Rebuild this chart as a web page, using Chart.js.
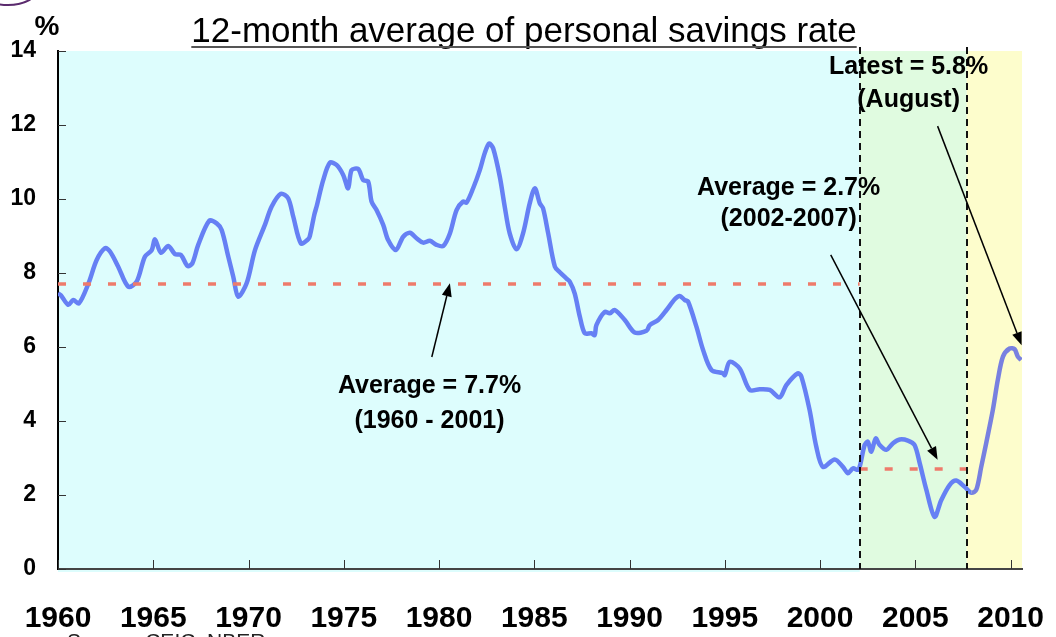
<!DOCTYPE html>
<html>
<head>
<meta charset="utf-8">
<script src="https://cdn.jsdelivr.net/npm/chart.js@4/dist/chart.umd.min.js"></script>
<style>
  html, body { margin: 0; padding: 0; background: #ffffff; }
  #wrap { width: 1056px; height: 637px; position: relative; }
</style>
</head>
<body>
<div id="wrap"><canvas id="c" width="1056" height="637"></canvas></div>
<script>
// ---- Data ----
const years = [
  1960.00, 1960.15, 1960.54, 1960.80, 1961.10, 1961.60, 1962.03, 1962.47, 1962.73, 1963.16,
  1963.69, 1964.13, 1964.56, 1964.92, 1965.09, 1965.40, 1965.79, 1966.14, 1966.45, 1966.80,
  1967.05, 1967.36, 1967.94, 1968.33, 1968.59, 1968.94, 1969.20, 1969.46, 1969.90, 1970.34,
  1970.86, 1971.21, 1971.70, 1972.08, 1972.35, 1972.75, 1973.13, 1973.22, 1973.45, 1973.57,
  1973.92, 1974.27, 1974.62, 1974.97, 1975.23, 1975.41, 1975.76, 1976.02, 1976.28, 1976.46,
  1976.72, 1977.07, 1977.33, 1977.73, 1978.12, 1978.47, 1978.82, 1979.17, 1979.52, 1979.87,
  1980.22, 1980.57, 1980.92, 1981.26, 1981.44, 1981.79, 1982.14, 1982.40, 1982.63, 1982.84,
  1983.19, 1983.45, 1983.71, 1984.07, 1984.41, 1984.76, 1985.03, 1985.29, 1985.46, 1985.73,
  1986.08, 1986.34, 1986.69, 1986.86, 1987.12, 1987.39, 1987.65, 1988.00, 1988.17, 1988.26,
  1988.70, 1988.96, 1989.22, 1989.75, 1990.27, 1990.89, 1991.06, 1991.50, 1991.94, 1992.37,
  1992.63, 1992.90, 1993.07, 1993.51, 1993.86, 1994.30, 1994.90, 1995.00, 1995.26, 1995.78,
  1996.31, 1996.83, 1997.36, 1997.88, 1998.23, 1998.84, 1999.02, 1999.45, 1999.80, 2000.15,
  2000.77, 2001.20, 2001.46, 2001.73, 2001.99, 2002.10, 2002.34, 2002.51, 2002.69, 2002.92,
  2003.13, 2003.48, 2003.83, 2004.18, 2004.61, 2004.96, 2005.23, 2005.58, 2006.01, 2006.36,
  2006.80, 2007.15, 2007.59, 2007.94, 2008.20, 2008.46, 2008.72, 2009.07, 2009.33, 2009.60,
  2009.95, 2010.21, 2010.38, 2010.56
];
const savingsRate = [
  7.45, 7.40, 7.14, 7.27, 7.18, 7.72, 8.35, 8.67, 8.58, 8.17,
  7.63, 7.77, 8.44, 8.62, 8.91, 8.55, 8.73, 8.51, 8.49, 8.19,
  8.26, 8.76, 9.41, 9.34, 9.16, 8.44, 7.90, 7.36, 7.72, 8.62,
  9.30, 9.79, 10.14, 10.02, 9.52, 8.80, 8.91, 9.00, 9.57, 9.79,
  10.51, 10.98, 10.92, 10.65, 10.29, 10.78, 10.81, 10.51, 10.47, 9.93,
  9.70, 9.30, 8.89, 8.62, 8.98, 9.09, 8.94, 8.82, 8.87, 8.76,
  8.73, 9.07, 9.70, 9.93, 9.90, 10.29, 10.78, 11.24, 11.50, 11.37,
  10.60, 9.79, 9.07, 8.64, 9.07, 9.88, 10.29, 9.88, 9.75, 9.07,
  8.17, 8.02, 7.85, 7.77, 7.45, 6.82, 6.37, 6.37, 6.32, 6.59,
  6.95, 6.91, 7.00, 6.73, 6.39, 6.44, 6.59, 6.73, 7.00, 7.29,
  7.38, 7.27, 7.23, 6.55, 5.92, 5.38, 5.29, 5.24, 5.60, 5.42,
  4.84, 4.86, 4.84, 4.64, 4.97, 5.29, 5.20, 4.30, 3.31, 2.76,
  2.96, 2.76, 2.59, 2.72, 2.68, 2.80, 3.35, 3.44, 3.17, 3.53,
  3.35, 3.22, 3.40, 3.50, 3.47, 3.35, 2.86, 2.14, 1.41, 1.86,
  2.27, 2.39, 2.22, 2.06, 2.14, 2.76, 3.40, 4.30, 5.11, 5.74,
  5.96, 5.94, 5.74, 5.65
];
// Period averages
const avgPeriods = [1960, 2002.08, 2007.7];   // boundaries of periods
const avgValues  = [7.7, 2.7];
const xEnd = 2010.6;
// Tick labels
const xTickYears = [1960, 1965, 1970, 1975, 1980, 1985, 1990, 1995, 2000, 2005, 2010];
const yTickValues = [0, 2, 4, 6, 8, 10, 12, 14];
// Texts
const titleText = '12-month average of personal savings rate';
const unitText = '%';
const sourceText = 'Source: CEIC, NBER';
const notes = [
  { lines: ['Average = 7.7%', '(1960 - 2001)'], at: [1979.5, 4.95], gap: 0.95, arrow: [[1979.62, 5.73], [1980.57, 7.72]] },
  { lines: ['Average = 2.7%', '(2002-2007)'], at: [1998.35, 10.3], gap: 0.85, arrow: [[2000.56, 8.49], [2006.17, 2.95]] },
  { lines: ['Latest = 5.8%', '(August)'], at: [2004.65, 13.57], gap: 0.9, arrow: [[2006.17, 11.97], [2010.58, 6.05]] }
];

const FONT = '"Liberation Sans", Arial, Helvetica, sans-serif';
const LINE_BLUE = '#6680f4';
const LINE_LATE = '#7880e0';
const AVG_RED = '#ee7b6b';

const mainData = years.map((y, i) => ({ x: y, y: savingsRate[i] }));
const avg1 = [{ x: avgPeriods[0], y: avgValues[0] }, { x: avgPeriods[1], y: avgValues[0] }];
const avg2 = [{ x: avgPeriods[1], y: avgValues[1] }, { x: avgPeriods[2], y: avgValues[1] }];

function arrow(ctx, x1, y1, x2, y2) {
  const ang = Math.atan2(y2 - y1, x2 - x1);
  const L = 13, W = 5;
  const bx = x2 - L * Math.cos(ang), by = y2 - L * Math.sin(ang);
  ctx.beginPath();
  ctx.moveTo(x1, y1);
  ctx.lineTo(bx, by);
  ctx.stroke();
  ctx.beginPath();
  ctx.moveTo(x2, y2);
  ctx.lineTo(bx + W * Math.sin(ang), by - W * Math.cos(ang));
  ctx.lineTo(bx - W * Math.sin(ang), by + W * Math.cos(ang));
  ctx.closePath();
  ctx.fill();
}

const decor = {
  id: 'decor',
  beforeDraw(chart) {
    const { ctx, chartArea: a, scales: { x } } = chart;
    const p1 = x.getPixelForValue(avgPeriods[1]);
    const p2 = x.getPixelForValue(avgPeriods[2]);
    ctx.save();
    ctx.fillStyle = '#ddfdfd';
    ctx.fillRect(a.left, a.top, p1 - a.left, a.bottom - a.top + 3);
    ctx.fillStyle = '#e0fbe0';
    ctx.fillRect(p1, a.top, p2 - p1, a.bottom - a.top);
    ctx.fillStyle = '#fdfdcc';
    ctx.fillRect(p2, a.top, a.right - p2, a.bottom - a.top);
    ctx.restore();
  },
  afterDatasetsDraw(chart) {
    const { ctx, chartArea: a, scales: { x, y } } = chart;
    ctx.save();
    // dashed period separators
    ctx.strokeStyle = '#111';
    ctx.lineWidth = 2;
    ctx.setLineDash([7, 5]);
    [avgPeriods[1], avgPeriods[2]].forEach(v => {
      const px = Math.round(x.getPixelForValue(v));
      ctx.beginPath();
      ctx.moveTo(px, a.top - 4);
      ctx.lineTo(px, a.bottom);
      ctx.stroke();
    });
    ctx.setLineDash([]);
    // inward tick marks
    ctx.strokeStyle = '#333';
    ctx.lineWidth = 1;
    xTickYears.forEach(v => {
      const px = Math.round(x.getPixelForValue(v)) + 0.5;
      ctx.beginPath();
      ctx.moveTo(px, a.bottom);
      ctx.lineTo(px, a.bottom - 9);
      ctx.stroke();
    });
    yTickValues.forEach(v => {
      const py = Math.round(y.getPixelForValue(v)) + 0.5;
      ctx.beginPath();
      ctx.moveTo(a.left, py);
      ctx.lineTo(a.left + 8, py);
      ctx.stroke();
    });
    ctx.restore();
  },
  afterDraw(chart) {
    const { ctx, chartArea: a, scales: { x, y } } = chart;
    ctx.save();
    // logo arc
    ctx.strokeStyle = '#5b2b6e';
    ctx.lineWidth = 2;
    ctx.beginPath();
    ctx.ellipse(8, -12, 30, 17, 0, 0, Math.PI);
    ctx.stroke();
    // title
    ctx.fillStyle = '#000';
    ctx.font = '35px ' + FONT;
    ctx.textAlign = 'center';
    ctx.textBaseline = 'alphabetic';
    const cx = 524;
    ctx.fillText(titleText, cx, 42);
    const tw = ctx.measureText(titleText).width;
    ctx.fillStyle = '#555';
    ctx.fillRect(cx - tw / 2, 46, tw, 2);
    // unit
    ctx.fillStyle = '#000';
    ctx.font = 'bold 28px ' + FONT;
    ctx.fillText(unitText, 47, 35);
    // notes and arrows
    ctx.font = 'bold 25px ' + FONT;
    ctx.textBaseline = 'middle';
    ctx.strokeStyle = '#000';
    ctx.fillStyle = '#000';
    ctx.lineWidth = 1.5;
    notes.forEach(n => {
      const tx = x.getPixelForValue(n.at[0]);
      n.lines.forEach((t, i) => {
        ctx.fillText(t, tx, y.getPixelForValue(n.at[1] - i * n.gap));
      });
      const [[ax, ay], [bx, by]] = n.arrow;
      arrow(ctx, x.getPixelForValue(ax), y.getPixelForValue(ay), x.getPixelForValue(bx), y.getPixelForValue(by));
    });
    // source (cut off at the bottom edge)
    ctx.font = '21px ' + FONT;
    ctx.textAlign = 'left';
    ctx.textBaseline = 'alphabetic';
    ctx.fillStyle = '#222';
    ctx.fillText(sourceText, 67, 648);
    ctx.restore();
  }
};

new Chart(document.getElementById('c'), {
  type: 'line',
  data: {
    datasets: [
      {
        data: mainData,
        borderColor: LINE_BLUE,
        borderWidth: 4.5,
        pointRadius: 0,
        tension: 0.3,
        segment: { borderColor: c => (c.p0.parsed.x >= avgPeriods[2] ? LINE_LATE : LINE_BLUE) },
        order: 2
      },
      {
        data: avg1,
        borderColor: AVG_RED,
        borderWidth: 3.5,
        borderDash: [8, 17],
        borderDashOffset: 0,
        pointRadius: 0,
        order: 1
      },
      {
        data: avg2,
        borderColor: AVG_RED,
        borderWidth: 3.5,
        borderDash: [8, 17],
        borderDashOffset: 0,
        pointRadius: 0,
        order: 1
      }
    ]
  },
  options: {
    responsive: false,
    animation: false,
    devicePixelRatio: 1,
    layout: { padding: { top: 51, right: 34, left: 0, bottom: 0 } },
    plugins: { legend: { display: false }, title: { display: false }, tooltip: { enabled: false } },
    scales: {
      x: {
        type: 'linear',
        min: 1960,
        max: xEnd,
        afterFit: s => { s.height = 68; s.paddingLeft = 0; s.paddingRight = 0; },
        afterBuildTicks: s => { s.ticks = xTickYears.map(v => ({ value: v })); },
        grid: { display: true, drawOnChartArea: false, drawTicks: false },
        border: { display: true, color: '#444', width: 2 },
        ticks: {
          autoSkip: false,
          maxRotation: 0,
          padding: 32,
          color: '#000',
          font: { family: FONT, size: 30, weight: 'bold' },
          callback: v => String(v)
        }
      },
      y: {
        min: 0,
        max: 14,
        afterFit: s => { s.width = 58; s.paddingTop = 0; s.paddingBottom = 0; },
        afterBuildTicks: s => { s.ticks = yTickValues.map(v => ({ value: v })); },
        grid: { display: true, drawOnChartArea: false, drawTicks: false },
        border: { display: true, color: '#000', width: 2 },
        ticks: {
          padding: 22,
          color: '#000',
          font: { family: FONT, size: 23, weight: 'bold' },
          callback: v => String(v)
        }
      }
    }
  },
  plugins: [decor]
});
</script>
</body>
</html>
